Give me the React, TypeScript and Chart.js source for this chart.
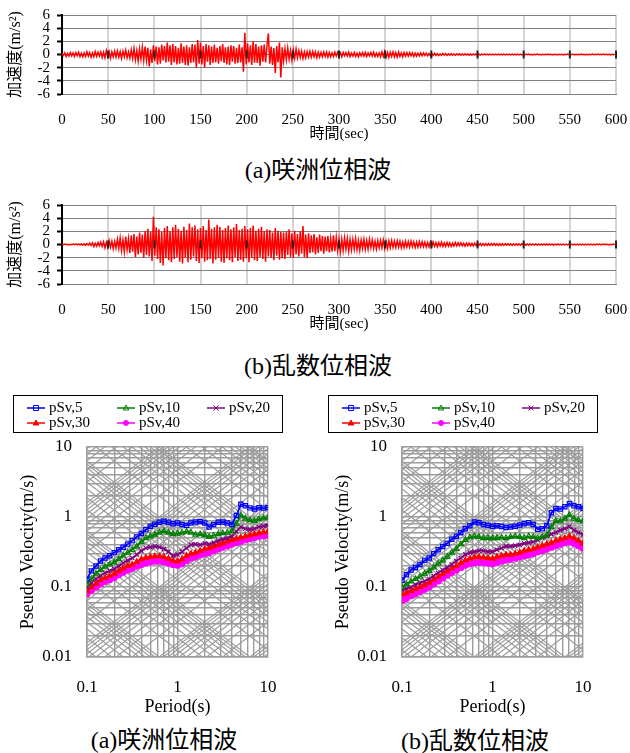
import React, { useEffect, useRef } from 'react';
import { Chart, registerables } from 'chart.js';

Chart.register(...registerables);

const SERIF = '"Liberation Serif", "Times New Roman", serif';
const SERIF_JP = '"Liberation Serif", "Noto Sans CJK JP", sans-serif';

// ---------- time histories (acceleration, m/s^2), one sample every TIME_STEP seconds ----------
const TIME_STEP = 1.5;
const TIME_MAX = 600;
const TIME_TICK_STEP = 50;
const ACC_MIN = -6;
const ACC_MAX = 6;
const ACC_TICK_STEP = 2;

const ACCEL_SAKISHIMA = [
  0.2, -0.15, 0.25, -0.3, 0.15, -0.25, 0.3, -0.2, 0.25, -0.3,
  0.3, -0.2, 0.35, -0.3, 0.2, -0.35, 0.25, -0.3, 0.4, -0.25,
  0.3, -0.4, 0.25, -0.35, 0.45, -0.3, 0.35, -0.25, 0.4, -0.45,
  0.35, -0.5, 0.6, -0.3, 0.45, -0.55, 0.4, -0.35, 0.5, -0.4,
  0.55, -0.4, 0.45, -0.6, 0.5, -0.35, 0.65, -0.5, 0.4, -0.55,
  0.7, -0.6, 0.9, -0.8, 0.6, -1.0, 0.85, -0.7, 1.1, -0.9,
  1.2, -0.9, 1.0, -1.8, 0.8, -1.3, 1.4, -1.0, 1.2, -1.5,
  1.1, -1.4, 1.5, -0.9, 1.3, -1.2, 1.8, -1.1, 1.4, -1.6,
  1.6, -1.2, 1.3, -1.5, 1.0, -1.4, 1.7, -1.3, 1.2, -1.6,
  1.4, -1.7, 1.1, -1.3, 1.6, -1.2, 1.5, -2.0, 2.2, -1.4,
  1.8, -1.5, 1.3, -2.0, 1.6, -1.1, 1.4, -1.6, 1.2, -1.3,
  1.5, -1.2, 1.0, -1.4, 1.3, -1.0, 1.6, -1.3, 1.1, -1.5,
  1.2, -1.6, 1.4, -1.1, 1.3, -1.4, 1.0, -1.3, 1.5, -1.2,
  1.1, -2.6, 3.3, -1.5, 1.7, -1.2, 1.4, -1.6, 2.0, -1.3,
  1.6, -1.3, 1.2, -1.7, 1.4, -1.1, 1.5, -1.2, 1.3, 3.2,
  -1.4, 1.2, -1.6, 1.0, -2.8, 1.3, -1.2, 1.8, -3.5, 1.1,
  -1.0, 0.9, -0.8, 1.0, -0.7, 0.6, -0.9, 0.7, -0.6, 0.8,
  -0.5, 0.6, -0.45, 0.5, -0.6, 0.4, -0.5, 0.45, -0.4, 0.5,
  -0.4, 0.45, -0.35, 0.4, -0.5, 0.35, -0.4, 0.3, -0.35, 0.4,
  -0.3, 0.35, -0.4, 0.3, -0.35, 0.25, -0.3, 0.35, -0.25, 0.3,
  -0.3, 0.25, -0.35, 0.3, -0.2, 0.3, -0.25, 0.35, -0.3, 0.2,
  -0.25, 0.3, -0.3, 0.2, -0.35, 0.25, -0.2, 0.3, -0.25, 0.3,
  -0.3, 0.25, -0.2, 0.3, -0.25, 0.35, -0.3, 0.2, -0.3, 0.25,
  -0.35, 0.4, -0.3, 0.45, -0.4, 0.3, -0.45, 0.35, -0.3, 0.4,
  -0.35, 0.3, -0.4, 0.35, -0.3, 0.25, -0.35, 0.3, -0.25, 0.3,
  -0.25, 0.3, -0.2, 0.25, -0.3, 0.2, -0.25, 0.2, -0.2, 0.25,
  -0.2, 0.25, -0.15, 0.2, -0.2, 0.15, -0.2, 0.15, -0.15, 0.2,
  -0.15, 0.12, -0.15, 0.1, -0.12, 0.15, -0.1, 0.12, -0.12, 0.1,
  -0.1, 0.12, -0.1, 0.08, -0.12, 0.1, -0.08, 0.1, -0.1, 0.08,
  -0.08, 0.1, -0.08, 0.08, -0.1, 0.07, -0.08, 0.08, -0.07, 0.08,
  -0.08, 0.07, -0.08, 0.06, -0.07, 0.08, -0.06, 0.07, -0.07, 0.06,
  -0.06, 0.07, -0.06, 0.06, -0.07, 0.05, -0.06, 0.06, -0.05, 0.06,
  -0.06, 0.05, -0.06, 0.05, -0.05, 0.06, -0.05, 0.05, -0.06, 0.05,
  -0.05, 0.05, -0.05, 0.04, -0.05, 0.05, -0.04, 0.05, -0.05, 0.04,
  -0.05, 0.04, -0.04, 0.05, -0.04, 0.04, -0.05, 0.04, -0.04, 0.04,
  -0.04, 0.05, -0.04, 0.04, -0.05, 0.04, -0.04, 0.04, -0.05, 0.04,
  -0.04, 0.04, -0.05, 0.04, -0.04, 0.05, -0.04, 0.04, -0.04, 0.05,
  -0.05, 0.04, -0.04, 0.04, -0.04, 0.05, -0.04, 0.04, -0.05, 0.04,
  -0.04, 0.04, -0.04, 0.05, -0.04, 0.04, -0.04, 0.05, -0.04, 0.04,
  -0.04, 0.05, -0.04, 0.04, -0.04, 0.04, -0.05, 0.04, -0.04, 0.04,
];

const ACCEL_RANDOM = [
  0.03, -0.04, 0.05, -0.03, 0.04, -0.05, 0.03, -0.04, 0.05, -0.04,
  0.08, -0.06, 0.1, -0.08, 0.12, -0.1, 0.09, -0.12, 0.14, -0.1,
  0.2, -0.15, 0.25, -0.3, 0.18, -0.25, 0.3, -0.2, 0.35, -0.3,
  0.4, -0.5, 0.35, -0.45, 0.6, -0.4, 0.5, -0.65, 0.45, -0.55,
  0.8, -0.6, 1.0, -0.9, 0.7, -1.1, 1.2, -0.8, 0.9, -1.3,
  1.4, -1.1, 1.6, -1.9, 1.2, -1.5, 1.8, -1.3, 1.5, -2.0,
  2.0, -1.6, 2.4, -1.8, 1.9, -2.5, 4.2, -1.7, 2.6, -2.2,
  2.3, -2.8, 1.9, -3.2, 2.5, -2.1, 2.8, -2.4, 2.0, -2.7,
  2.6, -2.2, 3.0, -1.9, 2.4, -2.6, 2.1, -2.9, 2.7, -2.0,
  2.2, -2.7, 3.2, -2.3, 2.6, -1.8, 2.9, -2.5, 2.3, -2.8,
  2.5, -2.1, 2.8, -2.6, 2.2, -2.4, 3.8, -2.2, 2.4, -2.9,
  2.6, -2.3, 3.0, -2.0, 2.7, -2.6, 2.2, -2.8, 2.5, -2.1,
  2.9, -2.4, 2.3, -2.7, 2.6, -1.9, 3.1, -2.5, 2.2, -2.3,
  2.4, -2.6, 2.8, -2.1, 2.3, -2.7, 2.5, -2.0, 2.9, -2.4,
  2.1, -2.5, 2.4, -1.9, 2.7, -2.2, 2.0, -2.6, 2.3, -1.8,
  2.2, -2.0, 1.8, -2.4, 2.5, -1.7, 2.1, -2.3, 1.9, -2.1,
  1.8, -2.2, 2.0, -1.6, 2.3, -1.9, 1.7, -2.0, 2.1, -1.5,
  1.6, -1.8, 2.0, -1.4, 2.8, -1.9, 1.5, -2.1, 1.7, -1.3,
  1.4, -1.2, 1.6, -1.5, 1.1, -1.3, 1.5, -1.0, 1.3, -1.4,
  1.2, -1.0, 1.3, -1.2, 0.9, -1.1, 1.4, -1.0, 1.1, -0.9,
  0.9, -1.1, 0.8, -0.9, 1.0, -0.7, 0.9, -1.0, 0.8, -0.8,
  0.8, -0.7, 0.9, -0.8, 0.6, -0.9, 0.7, -0.6, 0.8, -0.7,
  0.6, -0.7, 0.8, -0.5, 0.7, -0.6, 0.5, -0.7, 0.6, -0.5,
  0.6, -0.5, 0.7, -0.6, 0.5, -0.6, 0.55, -0.5, 0.6, -0.45,
  0.5, -0.45, 0.55, -0.4, 0.5, -0.5, 0.4, -0.45, 0.5, -0.4,
  0.45, -0.4, 0.5, -0.35, 0.4, -0.45, 0.35, -0.4, 0.45, -0.35,
  0.4, -0.35, 0.35, -0.4, 0.3, -0.35, 0.4, -0.3, 0.35, -0.3,
  0.3, -0.35, 0.3, -0.25, 0.35, -0.3, 0.25, -0.3, 0.3, -0.25,
  0.25, -0.3, 0.2, -0.25, 0.3, -0.2, 0.25, -0.2, 0.25, -0.2,
  0.2, -0.25, 0.2, -0.18, 0.22, -0.2, 0.18, -0.2, 0.2, -0.16,
  0.18, -0.15, 0.16, -0.18, 0.14, -0.16, 0.15, -0.14, 0.16, -0.13,
  0.14, -0.13, 0.15, -0.12, 0.13, -0.14, 0.12, -0.13, 0.12, -0.11,
  0.12, -0.11, 0.12, -0.1, 0.11, -0.12, 0.1, -0.11, 0.1, -0.1,
  0.1, -0.1, 0.11, -0.09, 0.1, -0.1, 0.09, -0.1, 0.09, -0.09,
  0.09, -0.08, 0.09, -0.08, 0.08, -0.09, 0.08, -0.08, 0.09, -0.07,
  0.08, -0.07, 0.08, -0.07, 0.07, -0.08, 0.07, -0.07, 0.08, -0.06,
  0.07, -0.07, 0.06, -0.07, 0.07, -0.06, 0.06, -0.07, 0.06, -0.06,
  0.06, -0.06, 0.06, -0.05, 0.06, -0.06, 0.05, -0.06, 0.05, -0.05,
  0.05, -0.05, 0.06, -0.05, 0.05, -0.05, 0.05, -0.04, 0.05, -0.05,
  0.05, -0.04, 0.05, -0.04, 0.04, -0.05, 0.04, -0.04, 0.05, -0.04,
];

// ---------- pseudo velocity response spectra (m/s) ----------
const PERIODS = [
  0.1, 0.112, 0.126, 0.141, 0.158, 0.178, 0.2, 0.224, 0.251, 0.282,
  0.316, 0.355, 0.398, 0.447, 0.501, 0.562, 0.631, 0.708, 0.794, 0.891,
  1, 1.12, 1.26, 1.41, 1.58, 1.78, 2, 2.24, 2.51, 2.82,
  3.16, 3.55, 3.98, 4.47, 5.01, 5.62, 6.31, 7.08, 7.94, 8.91,
  10,
];

const SAKISHIMA_PSV5 = [
  0.13, 0.17, 0.2, 0.235, 0.26, 0.28, 0.31, 0.34, 0.37, 0.41,
  0.46, 0.52, 0.58, 0.66, 0.74, 0.79, 0.84, 0.87, 0.84, 0.8,
  0.82, 0.78, 0.76, 0.82, 0.85, 0.86, 0.82, 0.72, 0.78, 0.84,
  0.85, 0.82, 0.78, 1.05, 1.52, 1.45, 1.35, 1.3, 1.36, 1.34,
  1.36,
];
const SAKISHIMA_PSV10 = [
  0.11, 0.13, 0.155, 0.175, 0.195, 0.21, 0.225, 0.25, 0.28, 0.31,
  0.34, 0.38, 0.44, 0.5, 0.53, 0.56, 0.6, 0.63, 0.6, 0.57,
  0.58, 0.6, 0.62, 0.6, 0.56, 0.57, 0.55, 0.52, 0.54, 0.57,
  0.59, 0.6, 0.63, 0.8, 1.05, 0.95, 0.9, 0.88, 0.93, 0.96,
  0.98,
];
const SAKISHIMA_PSV20 = [
  0.1, 0.115, 0.13, 0.145, 0.16, 0.17, 0.18, 0.2, 0.22, 0.24,
  0.26, 0.29, 0.33, 0.36, 0.37, 0.38, 0.37, 0.35, 0.32, 0.28,
  0.29, 0.32, 0.36, 0.4, 0.41, 0.4, 0.42, 0.41, 0.43, 0.46,
  0.48, 0.5, 0.53, 0.62, 0.72, 0.68, 0.66, 0.68, 0.72, 0.74,
  0.76,
];
const SAKISHIMA_PSV30 = [
  0.088, 0.1, 0.112, 0.125, 0.135, 0.145, 0.155, 0.17, 0.185, 0.2,
  0.21, 0.23, 0.25, 0.26, 0.27, 0.275, 0.275, 0.27, 0.255, 0.24,
  0.235, 0.25, 0.28, 0.3, 0.31, 0.33, 0.35, 0.36, 0.38, 0.4,
  0.42, 0.45, 0.47, 0.49, 0.51, 0.53, 0.55, 0.57, 0.59, 0.61,
  0.62,
];
const SAKISHIMA_PSV40 = [
  0.08, 0.09, 0.1, 0.11, 0.12, 0.128, 0.137, 0.15, 0.163, 0.175,
  0.185, 0.2, 0.21, 0.22, 0.23, 0.235, 0.235, 0.23, 0.22, 0.21,
  0.205, 0.215, 0.24, 0.26, 0.27, 0.29, 0.3, 0.31, 0.33, 0.35,
  0.37, 0.39, 0.41, 0.43, 0.45, 0.47, 0.49, 0.51, 0.53, 0.54,
  0.55,
];

const RANDOM_PSV5 = [
  0.125, 0.15, 0.175, 0.19, 0.21, 0.24, 0.26, 0.3, 0.34, 0.38,
  0.42, 0.48, 0.53, 0.6, 0.68, 0.75, 0.85, 0.83, 0.78, 0.76,
  0.74, 0.75, 0.73, 0.71, 0.72, 0.74, 0.77, 0.8, 0.83, 0.78,
  0.67, 0.68, 0.75, 1.15, 1.32, 1.3, 1.4, 1.55, 1.45, 1.4,
  1.33,
];
const RANDOM_PSV10 = [
  0.1, 0.11, 0.12, 0.13, 0.14, 0.155, 0.17, 0.19, 0.215, 0.24,
  0.27, 0.31, 0.35, 0.41, 0.47, 0.51, 0.53, 0.52, 0.5, 0.5,
  0.5, 0.5, 0.51, 0.5, 0.52, 0.53, 0.52, 0.5, 0.53, 0.52,
  0.5, 0.52, 0.55, 0.72, 0.88, 0.87, 0.95, 1.07, 0.95, 0.9,
  0.87,
];
const RANDOM_PSV20 = [
  0.09, 0.095, 0.1, 0.108, 0.115, 0.122, 0.13, 0.145, 0.16, 0.175,
  0.19, 0.21, 0.235, 0.26, 0.29, 0.31, 0.32, 0.33, 0.33, 0.32,
  0.32, 0.34, 0.36, 0.38, 0.38, 0.39, 0.4, 0.42, 0.43, 0.44,
  0.47, 0.5, 0.53, 0.57, 0.6, 0.65, 0.68, 0.73, 0.65, 0.6,
  0.56,
];
const RANDOM_PSV30 = [
  0.078, 0.082, 0.088, 0.094, 0.1, 0.107, 0.115, 0.128, 0.14, 0.155,
  0.168, 0.185, 0.2, 0.22, 0.24, 0.255, 0.265, 0.27, 0.265, 0.26,
  0.255, 0.27, 0.28, 0.29, 0.29, 0.3, 0.31, 0.33, 0.34, 0.35,
  0.37, 0.39, 0.41, 0.43, 0.46, 0.48, 0.5, 0.53, 0.5, 0.46,
  0.42,
];
const RANDOM_PSV40 = [
  0.064, 0.069, 0.075, 0.081, 0.087, 0.093, 0.1, 0.11, 0.122, 0.135,
  0.148, 0.162, 0.175, 0.19, 0.205, 0.215, 0.222, 0.225, 0.222, 0.22,
  0.215, 0.225, 0.235, 0.245, 0.25, 0.26, 0.27, 0.28, 0.29, 0.3,
  0.32, 0.33, 0.35, 0.37, 0.39, 0.41, 0.43, 0.44, 0.42, 0.39,
  0.36,
];

const SERIES_LABELS = ['pSv,5', 'pSv,10', 'pSv,20', 'pSv,30', 'pSv,40'];
const SERIES_COLORS = ['#0000ff', '#008000', '#800080', '#ff0000', '#ff00ff'];
const SERIES_MARKERS = ['rect', 'triangle', 'crossRot', 'triangle', 'circle'];
const SERIES_FILLED = [false, false, false, true, true];

const SAKISHIMA_SERIES = [SAKISHIMA_PSV5, SAKISHIMA_PSV10, SAKISHIMA_PSV20, SAKISHIMA_PSV30, SAKISHIMA_PSV40];
const RANDOM_SERIES = [RANDOM_PSV5, RANDOM_PSV10, RANDOM_PSV20, RANDOM_PSV30, RANDOM_PSV40];

// axis / grid definitions for the tripartite chart
const PERIOD_LABELS = [0.1, 1, 10];
const VELOCITY_LABELS = [0.01, 0.1, 1, 10];
const GRID_MULTIPLIERS = [1, 2, 3, 4, 5, 6, 7, 8, 9];
const PERIOD_DECADES = [0.1, 1];
const VELOCITY_DECADES = [0.01, 0.1, 1];
const ACCEL_LINE_DECADES = [0.001, 0.01, 0.1, 1, 10, 100]; // m/s^2
const DISP_LINE_DECADES = [0.0001, 0.001, 0.01, 0.1, 1, 10]; // m

const expand = (decades: number[], top: number) => {
  const out: number[] = [];
  decades.forEach((d) => GRID_MULTIPLIERS.forEach((m) => out.push(d * m)));
  out.push(top);
  return out;
};
const PERIOD_GRID = expand(PERIOD_DECADES, 10);
const VELOCITY_GRID = expand(VELOCITY_DECADES, 10);
const ACCEL_LINES = expand(ACCEL_LINE_DECADES, 1000);
const DISP_LINES = expand(DISP_LINE_DECADES, 100);

const GRID_GRAY = '#9c9c9c';

// ---------- plugins ----------
const zeroTickPlugin = {
  id: 'zeroTicks',
  afterDatasetsDraw(chart: any) {
    const { ctx, scales } = chart;
    const x = scales.x;
    const y0 = scales.y.getPixelForValue(0);
    ctx.save();
    ctx.strokeStyle = '#222';
    ctx.lineWidth = 2;
    x.ticks.forEach((t: any) => {
      if (t.value === 0) return;
      const px = x.getPixelForValue(t.value);
      ctx.beginPath();
      ctx.moveTo(px, y0 - 4);
      ctx.lineTo(px, y0 + 4);
      ctx.stroke();
    });
    ctx.restore();
  },
};

const tripartitePlugin = {
  id: 'tripartite',
  beforeDatasetsDraw(chart: any) {
    const { ctx, chartArea: a, scales } = chart;
    const x = scales.x;
    const y = scales.y;
    const t0 = PERIOD_GRID[0];
    const t1 = PERIOD_GRID[PERIOD_GRID.length - 1];
    const twoPi = 2 * Math.PI;
    ctx.save();
    ctx.beginPath();
    ctx.rect(a.left, a.top, a.right - a.left, a.bottom - a.top);
    ctx.clip();
    ctx.strokeStyle = GRID_GRAY;
    ctx.lineWidth = 1.2;
    const seg = (v0: number, v1: number) => {
      ctx.beginPath();
      ctx.moveTo(x.getPixelForValue(t0), y.getPixelForValue(v0));
      ctx.lineTo(x.getPixelForValue(t1), y.getPixelForValue(v1));
      ctx.stroke();
    };
    ACCEL_LINES.forEach((acc) => seg((acc * t0) / twoPi, (acc * t1) / twoPi));
    DISP_LINES.forEach((d) => seg((twoPi * d) / t0, (twoPi * d) / t1));
    ctx.restore();
  },
};

function drawMarker(ctx: CanvasRenderingContext2D, style: string, cx: number, cy: number, r: number, color: string, filled: boolean) {
  ctx.save();
  ctx.strokeStyle = color;
  ctx.fillStyle = color;
  ctx.lineWidth = 1;
  ctx.beginPath();
  if (style === 'rect') {
    ctx.rect(cx - r, cy - r, 2 * r, 2 * r);
  } else if (style === 'triangle') {
    ctx.moveTo(cx, cy - r * 1.2);
    ctx.lineTo(cx + r * 1.1, cy + r * 0.8);
    ctx.lineTo(cx - r * 1.1, cy + r * 0.8);
    ctx.closePath();
  } else if (style === 'crossRot') {
    ctx.moveTo(cx - r, cy - r);
    ctx.lineTo(cx + r, cy + r);
    ctx.moveTo(cx + r, cy - r);
    ctx.lineTo(cx - r, cy + r);
  } else {
    ctx.arc(cx, cy, r, 0, Math.PI * 2);
  }
  if (filled) ctx.fill();
  ctx.stroke();
  ctx.restore();
}

const boxLegendPlugin = {
  id: 'boxLegend',
  afterDraw(chart: any) {
    const { ctx } = chart;
    ctx.save();
    ctx.strokeStyle = '#000';
    ctx.lineWidth = 1;
    ctx.strokeRect(13.5, 10.5, 269, 37);
    chart.data.datasets.forEach((ds: any, i: number) => {
      const col = i % 3;
      const row = Math.floor(i / 3);
      const x0 = 27 + col * 90;
      const y = 23 + row * 15;
      ctx.strokeStyle = ds.borderColor;
      ctx.lineWidth = 1.5;
      ctx.beginPath();
      ctx.moveTo(x0, y);
      ctx.lineTo(x0 + 18, y);
      ctx.stroke();
      drawMarker(ctx, ds.pointStyle, x0 + 9, y, 2.5, ds.borderColor, SERIES_FILLED[i]);
      ctx.fillStyle = '#000';
      ctx.font = `15px ${SERIF}`;
      ctx.textBaseline = 'middle';
      ctx.textAlign = 'left';
      ctx.fillText(ds.label, x0 + 22, y);
    });
    ctx.restore();
  },
};

const clearScalePadding = (s: any) => {
  s.paddingLeft = 0;
  s.paddingRight = 0;
  s.paddingTop = 0;
  s.paddingBottom = 0;
};

// ---------- components ----------
function TimeHistory({ values, top }: { values: number[]; top: number }) {
  const ref = useRef<HTMLCanvasElement | null>(null);
  useEffect(() => {
    const chart = new Chart(ref.current as HTMLCanvasElement, {
      type: 'line',
      data: {
        datasets: [
          {
            data: values.map((v, i) => ({ x: i * TIME_STEP, y: v })),
            borderColor: '#ff0000',
            borderWidth: 1.5,
            pointRadius: 0,
            tension: 0,
          },
        ],
      },
      options: {
        responsive: false,
        animation: false,
        events: [],
        layout: { padding: { top: 15, right: 14, left: 0, bottom: 0 } },
        plugins: { legend: { display: false }, tooltip: { enabled: false } },
        scales: {
          x: {
            type: 'linear',
            min: 0,
            max: TIME_MAX,
            ticks: { stepSize: TIME_TICK_STEP, padding: 17, color: '#000', font: { family: SERIF, size: 15 }, maxRotation: 0, autoSkip: false },
            grid: {
              color: (c: any) => (c.tick && c.tick.value === 0 ? 'rgba(0,0,0,0)' : '#d4d4d4'),
              lineWidth: 2,
              drawTicks: false,
            },
            border: { color: '#808080', width: 1 },
            title: { display: true, text: '時間(sec)', color: '#000', font: { family: SERIF_JP, size: 15 }, padding: { top: 0, bottom: 2 } },
            afterFit: (s: any) => { s.height = 51; clearScalePadding(s); },
          },
          y: {
            min: ACC_MIN,
            max: ACC_MAX,
            ticks: { stepSize: ACC_TICK_STEP, padding: 7, color: '#000', autoSkip: false, font: { family: SERIF, size: 15 } },
            grid: { color: '#808080', lineWidth: 1, tickColor: '#000', tickLength: 5, tickWidth: 2 },
            border: { color: '#000', width: 2 },
            title: { display: true, text: '加速度(m/s²)', color: '#000', font: { family: SERIF_JP, size: 16 }, padding: { top: 6, bottom: 0 } },
            afterFit: (s: any) => { s.width = 62; clearScalePadding(s); },
          },
        },
      } as any,
      plugins: [zeroTickPlugin],
    });
    return () => chart.destroy();
  }, [values]);
  return (
    <canvas
      ref={ref}
      width={630}
      height={145}
      style={{ position: 'absolute', left: 0, top, width: 630, height: 145 }}
    />
  );
}

function Spectrum({ series, left }: { series: number[][]; left: number }) {
  const ref = useRef<HTMLCanvasElement | null>(null);
  useEffect(() => {
    const datasets = series.map((vals, i) => ({
      label: SERIES_LABELS[i],
      data: vals.map((v, j) => ({ x: PERIODS[j], y: v })),
      borderColor: SERIES_COLORS[i],
      backgroundColor: SERIES_COLORS[i],
      borderWidth: 1.8,
      pointStyle: SERIES_MARKERS[i],
      pointRadius: 3,
      pointBorderWidth: 1.2,
      pointBorderColor: SERIES_COLORS[i],
      pointBackgroundColor: SERIES_FILLED[i] ? SERIES_COLORS[i] : 'rgba(255,255,255,0)',
      tension: 0,
    }));
    const logAxis = (grid: number[]) => ({
      type: 'logarithmic',
      min: grid[0],
      max: grid[grid.length - 1],
      afterBuildTicks: (s: any) => { s.ticks = grid.map((v) => ({ value: v })); },
      grid: { color: GRID_GRAY, lineWidth: 1.4, drawTicks: false },
      border: { color: GRID_GRAY, width: 1.5 },
    });
    const chart = new Chart(ref.current as HTMLCanvasElement, {
      type: 'line',
      data: { datasets },
      options: {
        responsive: false,
        animation: false,
        events: [],
        layout: { padding: { top: 62, right: 47, left: 0, bottom: 0 } },
        plugins: { legend: { display: false }, tooltip: { enabled: false } },
        scales: {
          x: {
            ...logAxis(PERIOD_GRID),
            ticks: {
              padding: 20,
              color: '#000',
              autoSkip: false,
              maxRotation: 0,
              font: { family: SERIF, size: 17 },
              callback: (v: any) => (PERIOD_LABELS.includes(Number(v)) ? String(v) : ''),
            },
            title: { display: true, text: 'Period(s)', color: '#000', font: { family: SERIF, size: 18 }, padding: { top: 0, bottom: 2 } },
            afterFit: (s: any) => { s.height = 63; clearScalePadding(s); },
          },
          y: {
            ...logAxis(VELOCITY_GRID),
            ticks: {
              padding: 15,
              color: '#000',
              autoSkip: false,
              font: { family: SERIF, size: 17 },
              callback: (v: any) => (VELOCITY_LABELS.includes(Number(v)) ? String(v) : ''),
            },
            title: { display: true, text: 'Pseudo Velocity(m/s)', color: '#000', font: { family: SERIF, size: 18 }, padding: { top: 17, bottom: 0 } },
            afterFit: (s: any) => { s.width = 87; clearScalePadding(s); },
          },
        },
      } as any,
      plugins: [tripartitePlugin, boxLegendPlugin],
    });
    return () => chart.destroy();
  }, [series]);
  return (
    <canvas
      ref={ref}
      width={315}
      height={335}
      style={{ position: 'absolute', left, top: 385, width: 315, height: 335 }}
    />
  );
}

function Caption({ text, left, width, centerY }: { text: string; left: number; width: number; centerY: number }) {
  return (
    <div
      style={{
        position: 'absolute',
        left,
        width,
        top: centerY - 14,
        height: 28,
        lineHeight: '28px',
        textAlign: 'center',
        fontFamily: SERIF_JP,
        fontSize: 24,
        color: '#000',
        whiteSpace: 'nowrap',
      }}
    >
      {text}
    </div>
  );
}

export default function App() {
  return (
    <div style={{ position: 'absolute', left: 0, top: 0, width: 630, height: 753, background: '#fff', overflow: 'hidden' }}>
      <TimeHistory values={ACCEL_SAKISHIMA} top={0} />
      <Caption text="(a)咲洲位相波" left={6} width={624} centerY={170} />
      <TimeHistory values={ACCEL_RANDOM} top={190} />
      <Caption text="(b)乱数位相波" left={6} width={624} centerY={366} />
      <Spectrum series={SAKISHIMA_SERIES} left={0} />
      <Spectrum series={RANDOM_SERIES} left={315} />
      <Caption text="(a)咲洲位相波" left={64} width={200} centerY={740} />
      <Caption text="(b)乱数位相波" left={375} width={200} centerY={741} />
    </div>
  );
}
